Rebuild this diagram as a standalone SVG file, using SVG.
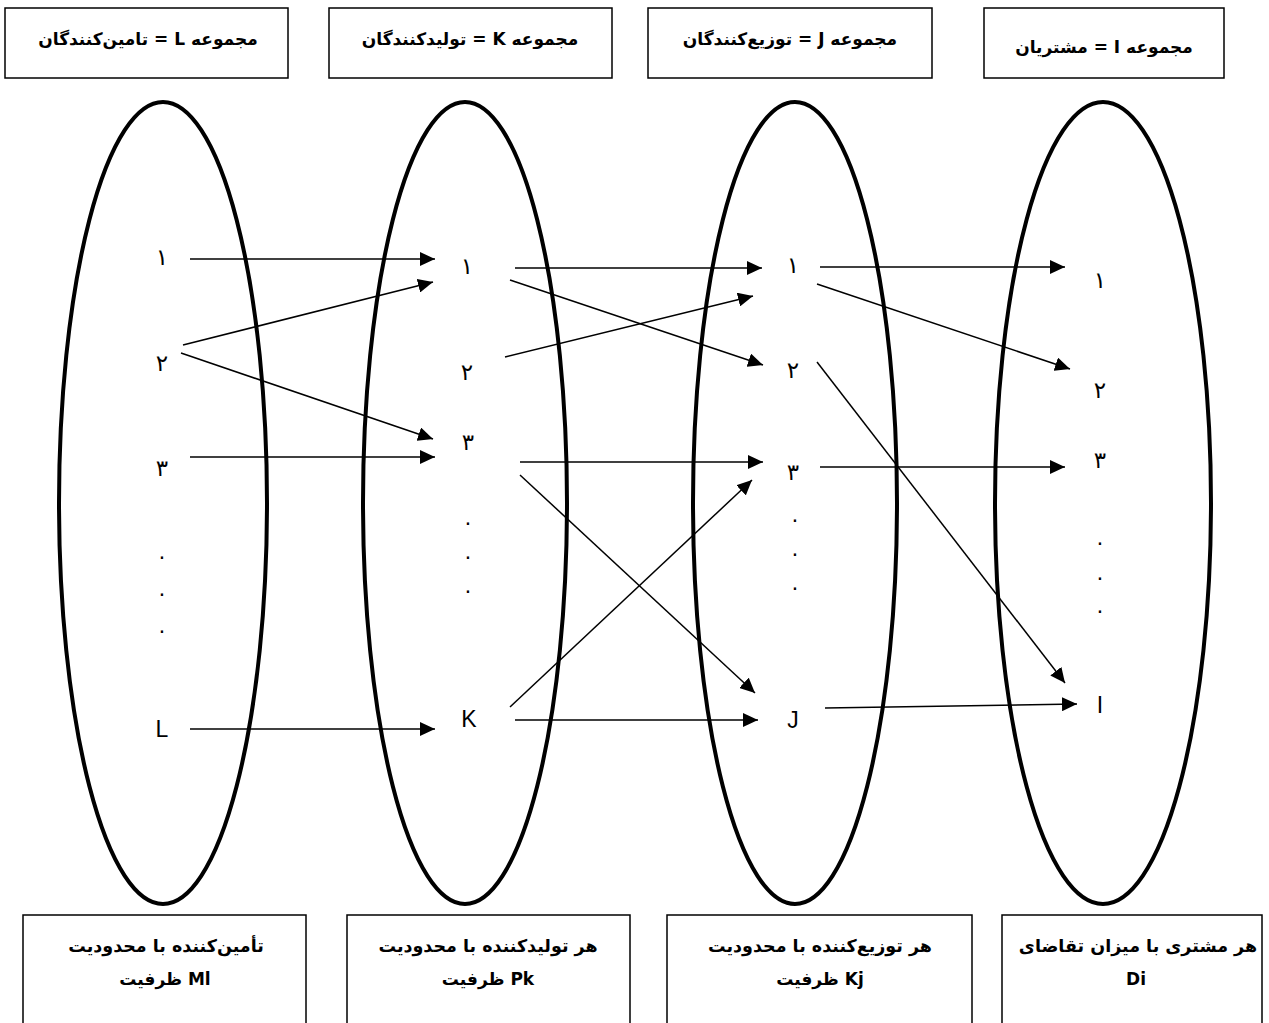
<svg xmlns="http://www.w3.org/2000/svg" width="1269" height="1023" viewBox="0 0 1269 1023">
<style>
.box{fill:#fff;stroke:#000;stroke-width:1.5}
.ell{fill:none;stroke:#000;stroke-width:4}
.hd{font-family:"DejaVu Sans",sans-serif;font-weight:bold;font-size:17px;fill:#000;text-anchor:middle}
.n1{font-size:17.5px}
.n2{font-size:17px}
.lb{font-family:"Liberation Sans","DejaVu Sans",sans-serif;font-size:23px;fill:#000;text-anchor:middle}
.cn{stroke:#000;stroke-width:1.5;fill:none}
</style>
<defs>
<marker id="ah" markerUnits="userSpaceOnUse" markerWidth="16" markerHeight="14" refX="15" refY="7" orient="auto">
<path d="M0,0 L15,7 L0,14 z" fill="#000"/>
</marker>
</defs>
<rect width="1269" height="1023" fill="#fff"/>

<g id="sets">
<ellipse id="set-L" class="ell" cx="163" cy="503" rx="104" ry="401"/>
<ellipse id="set-K" class="ell" cx="465" cy="503" rx="102" ry="401"/>
<ellipse id="set-J" class="ell" cx="795" cy="503" rx="102" ry="401"/>
<ellipse id="set-I" class="ell" cx="1103" cy="503" rx="108" ry="401"/>
</g>

<g id="title-L"><rect class="box" x="5" y="8" width="283" height="70"/><text class="hd" x="148" y="45" direction="rtl">مجموعه L = تامین‌کنندگان</text></g>
<g id="title-K"><rect class="box" x="329" y="8" width="283" height="70"/><text class="hd" x="470" y="45" direction="rtl">مجموعه K = تولیدکنندگان</text></g>
<g id="title-J"><rect class="box" x="648" y="8" width="284" height="70"/><text class="hd" x="790" y="45" direction="rtl">مجموعه J = توزیع‌کنندگان</text></g>
<g id="title-I"><rect class="box" x="984" y="8" width="240" height="70"/><text class="hd" x="1104" y="53" direction="rtl">مجموعه I = مشتریان</text></g>

<g id="note-L"><rect class="box" x="23" y="915" width="283" height="120"/><text class="hd n1" x="166" y="952" direction="rtl">تأمین‌کننده با محدودیت</text><text class="hd n2" x="165" y="985">ظرفیت Ml</text></g>
<g id="note-K"><rect class="box" x="347" y="915" width="283" height="120"/><text class="hd n1" x="488" y="952" direction="rtl">هر تولیدکننده با محدودیت</text><text class="hd n2" x="488" y="985">ظرفیت Pk</text></g>
<g id="note-J"><rect class="box" x="667" y="915" width="305" height="120"/><text class="hd n1" x="820" y="952" direction="rtl">هر توزیع‌کننده با محدودیت</text><text class="hd n2" x="820" y="985">ظرفیت Kj</text></g>
<g id="note-I"><rect class="box" x="1002" y="915" width="260" height="120"/><text class="hd n1" x="1138" y="952" direction="rtl">هر مشتری با میزان تقاضای</text><text class="hd n2" x="1136" y="985">Di</text></g>

<g id="nodes-L">
<g id="L1"><text class="lb" x="162" y="265">۱</text></g>
<g id="L2"><text class="lb" x="162" y="371">۲</text></g>
<g id="L3"><text class="lb" x="162" y="476">۳</text></g>
<g id="L-dots"><text class="lb" x="162" y="559">.</text><text class="lb" x="162" y="596">.</text><text class="lb" x="162" y="633">.</text></g>
<g id="Ln"><text class="lb" x="162" y="737">L</text></g>
</g>
<g id="nodes-K">
<g id="K1"><text class="lb" x="467" y="274">۱</text></g>
<g id="K2"><text class="lb" x="467" y="380">۲</text></g>
<g id="K3"><text class="lb" x="468" y="450">۳</text></g>
<g id="K-dots"><text class="lb" x="468" y="525">.</text><text class="lb" x="468" y="559">.</text><text class="lb" x="468" y="593">.</text></g>
<g id="Kn"><text class="lb" x="469" y="727">K</text></g>
</g>
<g id="nodes-J">
<g id="J1"><text class="lb" x="793" y="273">۱</text></g>
<g id="J2"><text class="lb" x="793" y="378">۲</text></g>
<g id="J3"><text class="lb" x="793" y="480">۳</text></g>
<g id="J-dots"><text class="lb" x="795" y="522">.</text><text class="lb" x="795" y="556">.</text><text class="lb" x="795" y="590">.</text></g>
<g id="Jn"><text class="lb" x="793" y="728">J</text></g>
</g>
<g id="nodes-I">
<g id="I1"><text class="lb" x="1100" y="288">۱</text></g>
<g id="I2"><text class="lb" x="1100" y="398">۲</text></g>
<g id="I3"><text class="lb" x="1100" y="468">۳</text></g>
<g id="I-dots"><text class="lb" x="1100" y="545">.</text><text class="lb" x="1100" y="580">.</text><text class="lb" x="1100" y="613">.</text></g>
<g id="In"><text class="lb" x="1100" y="713">I</text></g>
</g>

<g id="connectors" class="cn">
<path d="M190,259 L435,259" marker-end="url(#ah)"/>
<path d="M183,345 L433,282" marker-end="url(#ah)"/>
<path d="M181,353 L433,439" marker-end="url(#ah)"/>
<path d="M190,457 L435,457" marker-end="url(#ah)"/>
<path d="M190,729 L435,729" marker-end="url(#ah)"/>
<path d="M515,268 L762,268" marker-end="url(#ah)"/>
<path d="M510,280 L763,365" marker-end="url(#ah)"/>
<path d="M505,357 L753,296" marker-end="url(#ah)"/>
<path d="M520,462 L763,462" marker-end="url(#ah)"/>
<path d="M520,475 L755,693" marker-end="url(#ah)"/>
<path d="M510,707 L752,480" marker-end="url(#ah)"/>
<path d="M515,720 L758,720" marker-end="url(#ah)"/>
<path d="M820,267 L1065,267" marker-end="url(#ah)"/>
<path d="M817,284 L1070,369" marker-end="url(#ah)"/>
<path d="M817,362 L1065,683" marker-end="url(#ah)"/>
<path d="M820,467 L1065,467" marker-end="url(#ah)"/>
<path d="M825,708 L1077,704" marker-end="url(#ah)"/>
</g>
</svg>
